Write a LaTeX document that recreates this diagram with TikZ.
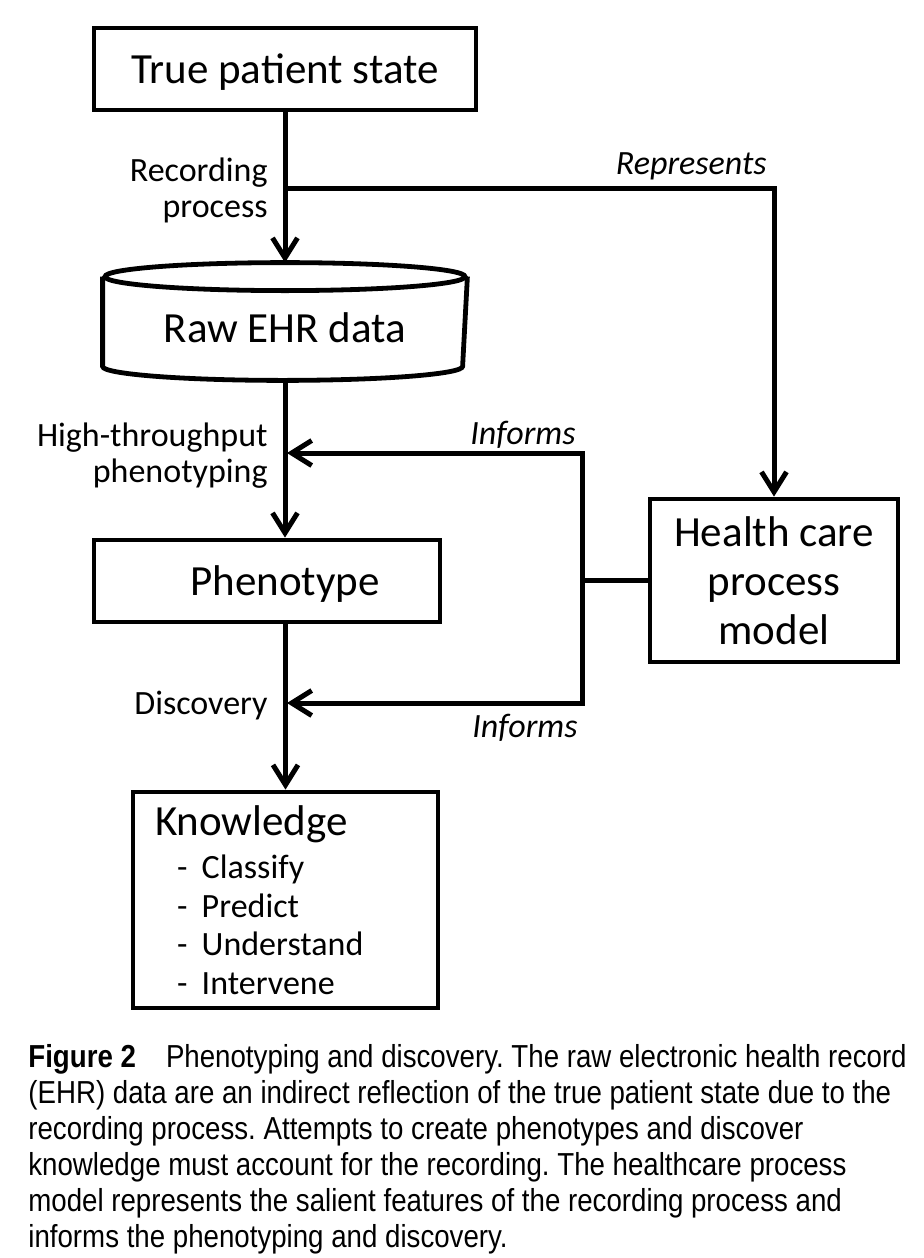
\documentclass[tikz,border=0pt]{standalone}
\usepackage{fontspec}
\setmainfont{Carlito}
\newfontfamily\captionfont[FakeStretch=0.87]{Liberation Sans}
\usetikzlibrary{arrows.meta}

\newcommand{\boxsize}{\fontsize{21.5pt}{24.5pt}\selectfont}
\newcommand{\labelsize}{\fontsize{17pt}{18pt}\selectfont}

\begin{document}
\begin{tikzpicture}[x=0.5pt,y=-0.5pt]
  \tikzstyle{outline}=[draw=black,line width=2.4pt]
  \tikzstyle{box}=[rectangle,outline,font=\boxsize,inner sep=0pt]
  \tikzstyle{oneline}=[box,text depth=0pt]
  \tikzstyle{link}=[draw,line width=2.5pt]
  \tikzstyle{flow}=[link,-{Straight Barb[length=10pt,width=12.5pt,line width=2.5pt]}]
  \tikzstyle{tag}=[font=\labelsize,inner sep=0pt,align=right]
  \useasboundingbox (0,0) rectangle (924,1258);

  % boxes down the left
  \node [oneline,minimum width=191pt,minimum height=41pt] (truestate) at (285,69) {True patient state};
  \node [oneline,draw=none,minimum width=180pt,minimum height=56.5pt,text height=20.5pt] (rawdata) at (285,321.5) {Raw EHR data};
  \node [oneline,minimum width=173pt,minimum height=41pt] (phenotype) at (267,581) {\hspace*{18pt}Phenotype};
  \node [box,minimum width=152.5pt,minimum height=108pt,text width=130.5pt,inner xsep=11pt,align=left] (knowledge) at (285.5,900)
    {Knowledge\\[2.5pt]\fontsize{17pt}{19.25pt}\selectfont
     \hspace*{11pt}- Classify\\\hspace*{11pt}- Predict\\\hspace*{11pt}- Understand\\\hspace*{11pt}- Intervene\par};
  \node [box,minimum width=124pt,minimum height=81.5pt,align=center] (health) at (774,580.5) {Health care\\process\\model};

  % cylinder outline
  \draw[outline] ([yshift=-7pt]rawdata.north) ellipse [x radius=90pt, y radius=7pt];
  \draw[outline] ([yshift=-7pt]rawdata.north west) -- ([yshift=7pt]rawdata.south west)
    arc [start angle=180, end angle=360, x radius=90pt, y radius=7pt] -- ([yshift=-7pt]rawdata.north east);

  \coordinate (split) at (285,188);
  \coordinate (hub) at (582,580.5);
  \coordinate (upin) at (287,453);
  \coordinate (lowin) at (287,703);

  \path[flow] (truestate) -- (rawdata);
  \path[flow] (split) -| (health.north);
  \path[flow] (rawdata) -- (rawdata.south |- phenotype.north);
  \path[flow] (knowledge.north |- phenotype.south) -- (knowledge);
  \path[link] (health) -- (hub);
  \path[flow] (hub) |- (upin);
  \path[flow] (hub) |- (lowin);

  % labels
  \node[tag,anchor=east] (recording) at (268,190) {Recording\\process};
  \node[tag,anchor=east] (highthru) at (268,456) {High-throughput\\phenotyping};
  \node[tag,anchor=base east] (discovery) at (268,714) {Discovery};
  \node[tag,anchor=base east,font=\labelsize\itshape] (represents) at (767,174) {Represents};
  \node[tag,anchor=base east,font=\labelsize\itshape] (informsup) at (576,444) {Informs};
  \node[tag,anchor=base east,font=\labelsize\itshape] (informslow) at (578,737) {Informs};

  \node[anchor=north west,inner sep=0pt,align=left,font=\captionfont\fontsize{15.9pt}{18pt}\selectfont\frenchspacing] (caption) at (28,1044)
    {\textbf{Figure 2}\hspace{15pt}Phenotyping and discovery. The raw electronic health record\\
     (EHR) data are an indirect reflection of the true patient state due to the\\
     recording process. Attempts to create phenotypes and discover\\
     knowledge must account for the recording. The healthcare process\\
     model represents the salient features of the recording process and\\
     informs the phenotyping and discovery.};
\end{tikzpicture}
\end{document}
